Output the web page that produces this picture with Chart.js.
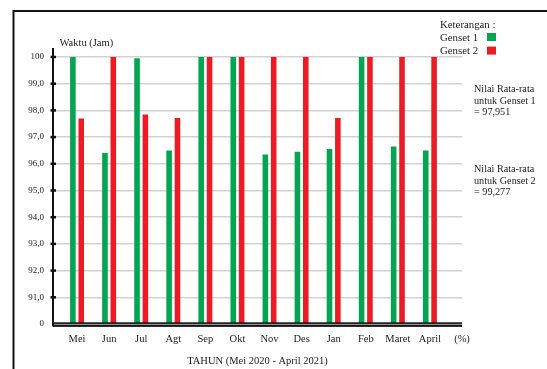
<!DOCTYPE html>
<html>
<head>
<meta charset="utf-8">
<style>
  html, body { margin: 0; padding: 0; background: #fff; }
  #wrap { position: relative; width: 547px; height: 369px; }
</style>
<script src="https://cdn.jsdelivr.net/npm/chart.js@4.4.1/dist/chart.umd.min.js"></script>
</head>
<body>
<div id="wrap"><canvas id="c" width="547" height="369"></canvas></div>
<script>
// Monthly operating time per generator set (May 2020 - April 2021)
const months = ['Mei', 'Jun', 'Jul', 'Agt', 'Sep', 'Okt', 'Nov', 'Des', 'Jan', 'Feb', 'Maret', 'April'];
const genset1 = [100, 96.4, 99.95, 96.5, 100, 100, 96.35, 96.45, 96.55, 100, 96.65, 96.5];
const genset2 = [97.7, 100, 97.85, 97.72, 100, 100, 100, 100, 97.72, 100, 100, 100];
const seriesNames = ['Genset 1', 'Genset 2'];
const seriesColors = ['#00a651', '#ed1c24'];
const unitLabel = '(%)';
const breakLabel = '0';          // axis break: the lowest tick stands for zero
const yMin = 90, yMax = 100;
const yTitle = 'Waktu (Jam)';
const xTitle = 'TAHUN (Mei 2020 - April 2021)';
const legendTitle = 'Keterangan :';
const avgNotes = [
  ['Nilai Rata-rata', 'untuk Genset 1', '= 97,951'],
  ['Nilai Rata-rata', 'untuk Genset 2', '= 99,277']
];

const FONT = "'Liberation Serif', 'Times New Roman', serif";
const INK = '#1c1c1c';

const toPoints = arr => arr.map((v, i) => ({ x: i, y: v }));

const decor = {
  id: 'decor',
  beforeDraw(chart) {
    const c = chart.ctx;
    c.save();
    c.fillStyle = '#fff';
    c.fillRect(0, 0, chart.width, chart.height);
    // figure frame
    c.strokeStyle = '#111';
    c.lineWidth = 2;
    c.beginPath();
    c.moveTo(13.5, chart.height + 5);
    c.lineTo(13.5, 11);
    c.lineTo(chart.width + 5, 11);
    c.stroke();
    c.restore();
  },
  afterDatasetsDraw(chart) {
    const c = chart.ctx, a = chart.chartArea, y = chart.scales.y;
    const b = y.getPixelForValue(y.min);
    c.save();
    // double base rule
    c.fillStyle = '#111';
    c.fillRect(a.left, b - 1.7, a.right - a.left, 4.6);
    c.fillStyle = '#8c8c8c';
    c.fillRect(a.left, b - 0.2, a.right - a.left, 1.3);
    // vertical axis with crossing tick marks
    c.strokeStyle = '#111';
    c.lineWidth = 2;
    c.beginPath();
    c.moveTo(a.left, a.top - 9);
    c.lineTo(a.left, b + 2.5);
    c.stroke();
    c.lineWidth = 2.5;
    y.ticks.forEach(t => {
      if (t.value === y.min) return;
      const p = y.getPixelForValue(t.value);
      c.beginPath();
      c.moveTo(a.left - 2.5, p);
      c.lineTo(a.left + 3, p);
      c.stroke();
    });
    c.restore();
  },
  afterDraw(chart) {
    const c = chart.ctx, a = chart.chartArea;
    c.save();
    c.fillStyle = INK;
    c.textAlign = 'left';
    c.textBaseline = 'alphabetic';
    c.font = `10.5px ${FONT}`;
    c.fillText(yTitle, a.left + 6.5, 46);
    // legend
    c.font = `10.8px ${FONT}`;
    c.fillText(legendTitle, 440, 27.5);
    chart.data.datasets.forEach((ds, i) => {
      c.fillStyle = INK;
      c.fillText(ds.label, 440, 40.8 + i * 13.2);
      c.fillStyle = ds.backgroundColor;
      c.fillRect(487, 33 + i * 13.6, 9, 8);
    });
    // averages
    c.fillStyle = INK;
    c.font = `10.2px ${FONT}`;
    const tops = [92, 172];
    avgNotes.forEach((lines, k) => {
      lines.forEach((s, j) => c.fillText(s, 474, tops[k] + j * 11.6));
    });
    c.restore();
  }
};

new Chart(document.getElementById('c'), {
  type: 'bar',
  data: {
    datasets: [
      { label: seriesNames[0], data: toPoints(genset1), backgroundColor: seriesColors[0] },
      { label: seriesNames[1], data: toPoints(genset2), backgroundColor: seriesColors[1] }
    ]
  },
  options: {
    responsive: false,
    animation: false,
    devicePixelRatio: 1,
    categoryPercentage: 0.52,
    barPercentage: 0.67,
    layout: { padding: { left: 0, right: 85, top: 57, bottom: 0 } },
    plugins: { legend: { display: false }, tooltip: { enabled: false } },
    scales: {
      x: {
        type: 'linear',
        offset: false,
        min: -0.75,
        max: months.length,
        // one tick per month plus the trailing unit label
        afterBuildTicks: s => { s.ticks = months.map((m, i) => ({ value: i })).concat({ value: months.length }); },
        afterFit: s => { s.height = 45; },
        grid: { display: false, drawTicks: false, offset: false },
        border: { display: false },
        ticks: {
          autoSkip: false,
          maxRotation: 0,
          padding: 9,
          color: INK,
          font: { family: FONT, size: 10.5 },
          callback: v => (v < months.length ? months[v] : unitLabel)
        },
        title: {
          display: true,
          text: xTitle,
          color: INK,
          font: { family: FONT, size: 10.5 },
          padding: { top: 0, bottom: 1 }
        }
      },
      y: {
        min: yMin,
        max: yMax,
        afterBuildTicks: s => { s.ticks = s.ticks.filter(t => Number.isInteger(t.value)); },
        afterFit: s => { s.width = 53; },
        border: { display: false },
        grid: {
          drawTicks: false,
          lineWidth: 1.6,
          color: ctx => (ctx.tick && ctx.tick.value === yMin ? 'rgba(0,0,0,0)' : '#d2d2d2')
        },
        ticks: {
          stepSize: 1,
          padding: 9,
          color: INK,
          font: { family: FONT, size: 9 },
          callback: v => (v === yMin ? breakLabel : v === yMax ? String(v) : v.toFixed(1).replace('.', ','))
        }
      }
    }
  },
  plugins: [decor]
});
</script>
</body>
</html>
